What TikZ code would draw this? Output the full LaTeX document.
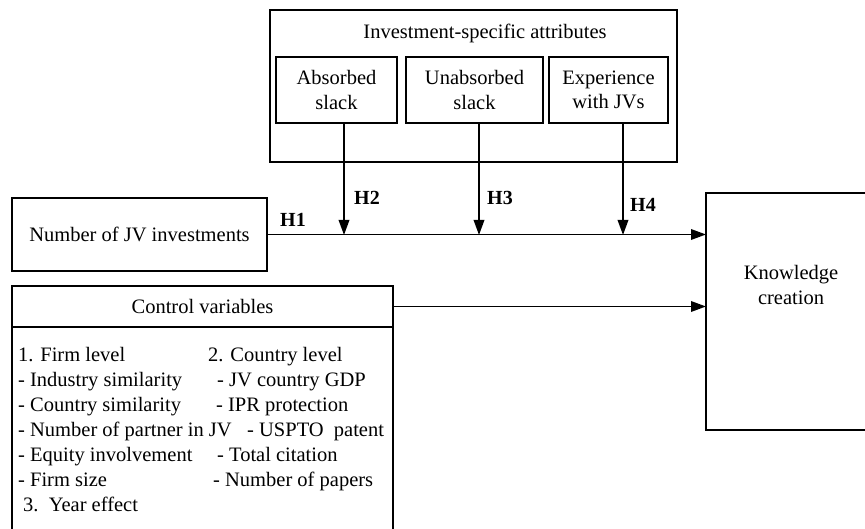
\documentclass[tikz,border=0pt]{standalone}
\usepackage{fontspec}
\setmainfont{Liberation Serif}
\usetikzlibrary{arrows.meta}
\begin{document}
\begin{tikzpicture}[x=1pt,y=-1pt,
  box/.style={draw, line width=2pt, inner sep=0pt, outer sep=0pt},
  txt/.style={font=\rmfamily\fontsize{20.5}{24.5}\selectfont, align=center},
  ctl/.style={font=\rmfamily\fontsize{20.5}{24.5}\selectfont, anchor=base west, inner sep=0pt},
  arr/.style={-{Triangle[length=15pt,width=10.5pt]}, line width=1.8pt},
  hlab/.style={font=\rmfamily\fontsize{20}{24}\selectfont\bfseries, inner sep=0pt}]
\useasboundingbox (0,0) rectangle (865,529);
\clip (0,0) rectangle (865,529);
% investment-specific attributes
\node[box, minimum width=407pt, minimum height=152pt] (inv) at (473.5,86) {};
\node[txt] (invt) at (485,33) {Investment-specific attributes};
\node[box, txt, minimum width=121pt, minimum height=66pt] (ab) at (336.5,90) {Absorbed\\slack};
\node[box, txt, minimum width=137pt, minimum height=66pt] (un) at (474.5,90) {Unabsorbed\\slack};
\node[box, txt, minimum width=119pt, minimum height=66pt] (ex) at (608.5,90) {Experience\\with JVs};
% main boxes
\node[box, txt, minimum width=255pt, minimum height=73pt] (num) at (139.5,234.5) {Number of JV investments};
\node[box, minimum width=170pt, minimum height=237pt] (kc) at (791,311.5) {};
\node[txt] (kct) at (791,285) {Knowledge\\creation};
\node[box, txt, minimum width=381pt, minimum height=41pt] (cvt) at (202.5,306.5) {Control variables};
\node[box, minimum width=381pt, minimum height=210pt] (cvb) at (202.5,432) {};
% control text
\node[ctl] (c1) at (18,361) {1. Firm level};
\node[ctl] (c2) at (18,386) {- Industry similarity};
\node[ctl] (c3) at (18,411) {- Country similarity};
\node[ctl] (c4) at (18,436) {- Number of partner in JV};
\node[ctl] (c5) at (18,461) {- Equity involvement};
\node[ctl] (c6) at (18,486) {- Firm size};
\node[ctl] (c7) at (23,511) {3.\ \ Year effect};
\node[ctl] (d1) at (208,361) {2. Country level};
\node[ctl] (d2) at (217,386) {- JV country GDP};
\node[ctl] (d3) at (216,411) {- IPR protection};
\node[ctl] (d4) at (247,436) {- USPTO\ \ patent};
\node[ctl] (d5) at (217,461) {- Total citation};
\node[ctl] (d6) at (213,486) {- Number of papers};
% connectors
\coordinate (p2) at (344,235);
\coordinate (p3) at (479,235);
\coordinate (p4) at (623,235);
\draw[arr] (num.east) -- (num.east -| kc.west);
\draw[arr] (cvt.east) -- (cvt.east -| kc.west);
\draw[arr] (ab.south -| p2) -- (p2);
\draw[arr] (un.south -| p3) -- (p3);
\draw[arr] (ex.south -| p4) -- (p4);
% labels
\node[hlab] (h1) at (293,220) {H1};
\node[hlab] (h2) at (367,198) {H2};
\node[hlab] (h3) at (500,198) {H3};
\node[hlab] (h4) at (643,205) {H4};
\end{tikzpicture}
\end{document}
